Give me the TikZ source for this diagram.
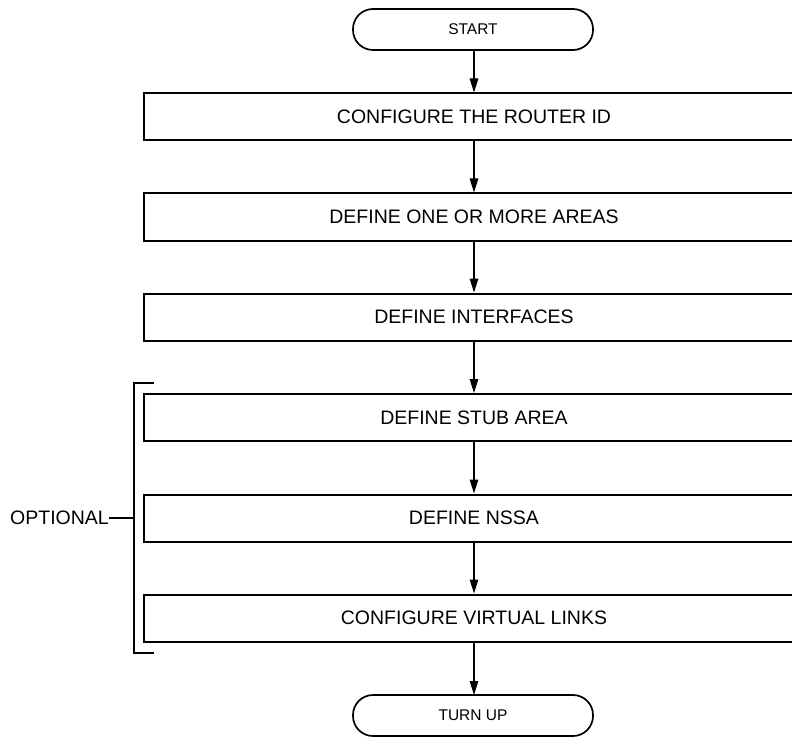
\documentclass[tikz,border=0pt]{standalone}
\usepackage{fontspec}
\setmainfont{Liberation Sans}
\usetikzlibrary{arrows.meta}
\begin{document}
\begin{tikzpicture}[x=1pt,y=-1pt,
  stepbox/.style={draw, line width=2pt, minimum width=660pt, minimum height=47pt, inner sep=0pt, font=\fontsize{19.5}{23}\selectfont},
  term/.style={draw, line width=1.7pt, rounded corners=20pt, minimum width=240pt, minimum height=41pt, inner sep=0pt, font=\fontsize{15.5}{18}\selectfont},
  flow/.style={line width=1.4pt, -{Triangle[length=14pt,width=8.5pt]}},
  brk/.style={line width=1.2pt}]
\useasboundingbox (0,0) rectangle (792,738);
\clip (0,0) rectangle (792,738);
\node[term] (start) at (473,29.5) {START};
\node[stepbox] (b1) at (474,117) {CONFIGURE THE ROUTER ID};
\node[stepbox] (b2) at (474,217) {DEFINE ONE OR MORE AREAS};
\node[stepbox] (b3) at (474,317) {DEFINE INTERFACES};
\node[stepbox] (b4) at (474,417.5) {DEFINE STUB AREA};
\node[stepbox] (b5) at (474,518) {DEFINE NSSA};
\node[stepbox] (b6) at (474,618) {CONFIGURE VIRTUAL LINKS};
\node[term] (end) at (473,715.5) {TURN UP};
\draw[flow] (474,50) -- (b1.north);
\draw[flow] (b1) -- (b2);
\draw[flow] (b2) -- (b3);
\draw[flow] (b3) -- (b4);
\draw[flow] (b4) -- (b5);
\draw[flow] (b5) -- (b6);
\draw[flow] (b6.south) -- (474,695);
\coordinate (bt) at (154,383);
\coordinate (bb) at (154,653);
\coordinate (bm) at (134,518);
\draw[brk] (bt) -- (134,383) -- (134,653) -- (bb);
\node[anchor=east, inner sep=0pt, font=\fontsize{19.5}{23}\selectfont] (opt) at (109,518) {OPTIONAL};
\draw[brk] (opt.east) -- (bm);
\end{tikzpicture}
\end{document}
